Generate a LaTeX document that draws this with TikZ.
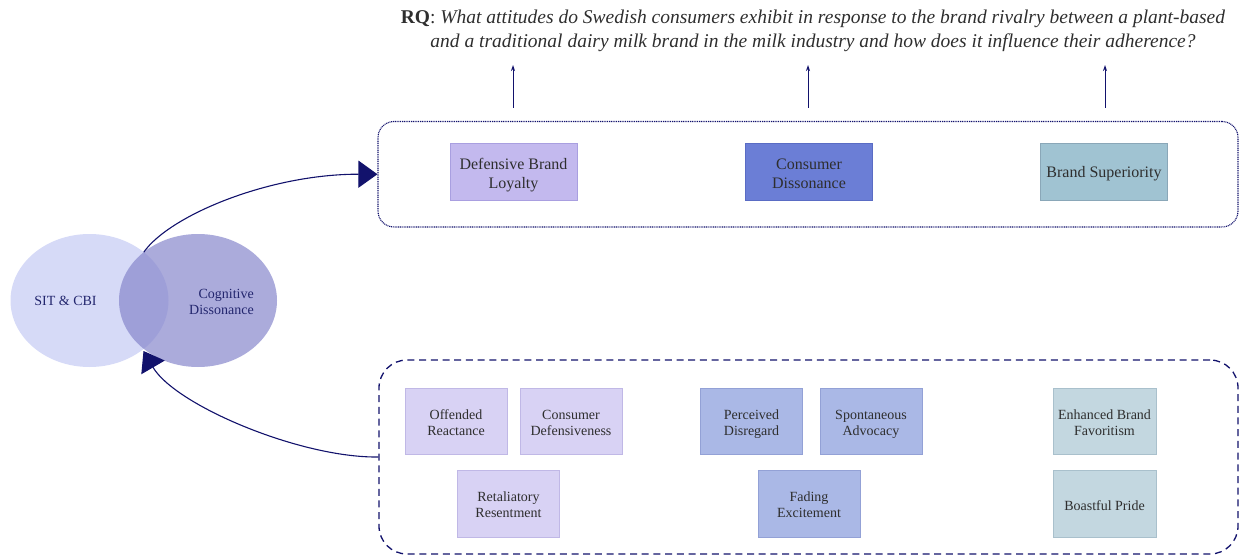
\documentclass[tikz,border=0pt]{standalone}
\usepackage{fontspec}
\setmainfont{Liberation Serif}
\usetikzlibrary{arrows.meta,shapes.geometric}
\definecolor{navy}{HTML}{12126C}
\definecolor{ovtext}{HTML}{23266E}
\definecolor{boxtext}{HTML}{2E2E2E}
\definecolor{sitfill}{HTML}{D6DAF7}
\definecolor{cogfill}{RGB}{135,135,204}
\definecolor{dblfill}{HTML}{C3B9EE}
\definecolor{dbldraw}{HTML}{A99FE0}
\definecolor{cdfill}{HTML}{6B7ED6}
\definecolor{cddraw}{HTML}{5A6CC4}
\definecolor{bsfill}{HTML}{A0C3D2}
\definecolor{bsdraw}{HTML}{8AA7B8}
\definecolor{lavfill}{HTML}{D8D2F4}
\definecolor{lavdraw}{HTML}{C0B8E6}
\definecolor{blufill}{HTML}{AAB8E6}
\definecolor{bludraw}{HTML}{93A1D6}
\definecolor{grefill}{HTML}{C3D7E0}
\definecolor{gredraw}{HTML}{A9C0CC}
\tikzset{
  bigbox/.style={draw, line width=0.8pt, inner sep=0pt, minimum width=127pt, minimum height=57pt},
  smallbox/.style={draw, line width=0.8pt, inner sep=0pt, minimum width=102pt, minimum height=66pt},
  bigtxt/.style={inner sep=0pt, align=center, text=boxtext, font=\fontsize{16}{19}\selectfont},
  smalltxt/.style={inner sep=0pt, align=center, text=boxtext, font=\fontsize{14}{16}\selectfont},
  bigarrow/.style={navy, line width=1.1pt, -{Triangle[length=19pt,width=27pt]}},
  uparrow/.style={navy, line width=1pt, -{Stealth[length=6pt,width=4pt]}},
  ovtxt/.style={text=ovtext, font=\fontsize{14}{16}\selectfont, inner sep=0pt}
}
\begin{document}
\begin{tikzpicture}[x=1pt,y=-1pt]
\useasboundingbox (0,0) rectangle (1239,556);

% ellipses
\node[ellipse, fill=sitfill, minimum width=158pt, minimum height=133pt, inner sep=0pt] (sit) at (89.5,300.5) {};
\node[ellipse, fill=cogfill, fill opacity=0.7, minimum width=158pt, minimum height=133pt, inner sep=0pt] (cog) at (198,300.5) {};
\node[ovtxt] (sittext) at (65.5,301) {SIT \& CBI};
\node[ovtxt, align=right] (cogtext) at (221.5,302) {Cognitive\\Dissonance};
\coordinate (ovtop) at (143.75,252.2);
\coordinate (ovbot) at (143.5,351);

% research question
\node[align=center, inner sep=0pt, font=\fontsize{19.5}{23.5}\selectfont, text=boxtext] (rq) at (813,31)
  {\textbf{RQ}: \textit{What attitudes do Swedish consumers exhibit in response to the brand rivalry between a plant-based}\\
   \textit{and a traditional dairy milk brand in the milk industry and how does it influence their adherence?}};

% top frame
\node[draw=navy, line width=1.1pt, dash pattern=on 1pt off 0.8pt, rounded corners=16pt,
  minimum width=860pt, minimum height=105.5pt, inner sep=0pt] (topframe) at (808,174.25) {};
\node[bigbox, fill=dblfill, draw=dbldraw] (dbl) at (513.5,171.5) {};
\node[bigbox, fill=cdfill, draw=cddraw] (cd) at (809,171.5) {};
\node[bigbox, fill=bsfill, draw=bsdraw] (bs) at (1104,171.5) {};
\node[bigtxt] (dbltxt) at ([yshift=-4pt]dbl.center) {Defensive Brand\\Loyalty};
\node[bigtxt] (cdtxt) at ([yshift=-2pt]cd.center) {Consumer\\Dissonance};
\node[bigtxt] (bstxt) at ([yshift=-2pt]bs.center) {Brand Superiority};

% up arrows
\coordinate (u1s) at (513,108); \coordinate (u1e) at (513,65);
\coordinate (u2s) at (808,108); \coordinate (u2e) at (808,65);
\coordinate (u3s) at (1105,108); \coordinate (u3e) at (1105,65);
\draw[uparrow] (u1s) -- (u1e);
\draw[uparrow] (u2s) -- (u2e);
\draw[uparrow] (u3s) -- (u3e);

% bottom frame
\node[draw=navy, line width=1.3pt, dash pattern=on 7pt off 4.7pt, rounded corners=28pt,
  minimum width=859pt, minimum height=194pt, inner sep=0pt] (botframe) at (808.5,457) {};
\node[smallbox, fill=lavfill, draw=lavdraw] (off) at (456,421) {};
\node[smallbox, fill=lavfill, draw=lavdraw] (cdef) at (571,421) {};
\node[smallbox, fill=lavfill, draw=lavdraw, minimum height=67pt] (ret) at (508.5,503.5) {};
\node[smallbox, fill=blufill, draw=bludraw] (per) at (751.5,421) {};
\node[smallbox, fill=blufill, draw=bludraw] (spo) at (871,421) {};
\node[smallbox, fill=blufill, draw=bludraw, minimum height=67pt] (fad) at (809,503.5) {};
\node[smallbox, fill=grefill, draw=gredraw, minimum width=103pt] (enh) at (1104.5,421) {};
\node[smallbox, fill=grefill, draw=gredraw, minimum width=103pt, minimum height=67pt] (boa) at (1104.5,503.5) {};
\node[smalltxt] (offtxt) at ([yshift=-2pt]off.center) {Offended\\Reactance};
\node[smalltxt] (cdeftxt) at ([yshift=-2pt]cdef.center) {Consumer\\Defensiveness};
\node[smalltxt] (rettxt) at ([yshift=-1pt]ret.center) {Retaliatory\\Resentment};
\node[smalltxt] (pertxt) at ([yshift=-3pt]per.center) {Perceived\\Disregard};
\node[smalltxt] (spotxt) at ([yshift=-3pt]spo.center) {Spontaneous\\Advocacy};
\node[smalltxt] (fadtxt) at ([yshift=-1pt]fad.center) {Fading\\Excitement};
\node[smalltxt] (enhtxt) at ([yshift=-2pt]enh.center) {Enhanced Brand\\Favoritism};
\node[smalltxt] (boatxt) at ([yshift=-2pt]boa.center) {Boastful Pride};

% curved arrows
\draw[bigarrow] (ovtop) .. controls (170,215) and (270,174) .. (topframe.west);
\draw[bigarrow] (botframe.west) .. controls (300,458) and (175,405) .. (ovbot);
\end{tikzpicture}
\end{document}
